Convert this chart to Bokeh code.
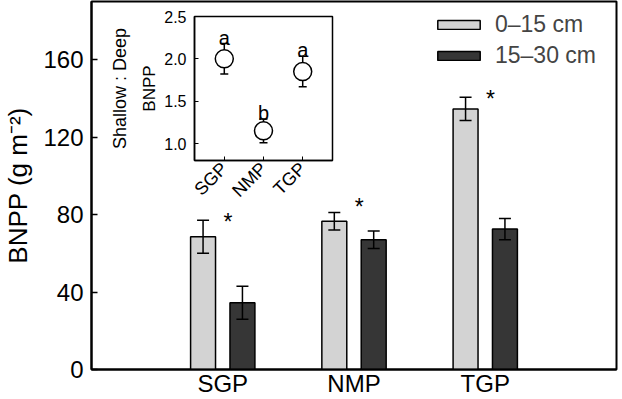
import math
from bokeh.plotting import figure
from bokeh.models import (Whisker, ColumnDataSource, FixedTicker, Legend, LegendItem,
                          LinearAxis, Range1d, TeeHead, NumeralTickFormatter)
from bokeh.layouts import column
from bokeh.embed import file_html
from bokeh.resources import INLINE
from bokeh.core.properties import value

# ---------------- data ----------------
sites = ["SGP", "NMP", "TGP"]
bnpp_shallow = [68.5, 76.5, 134.5]     # 0-15 cm
se_shallow = [8.5, 4.5, 6.0]
bnpp_deep = [34.5, 67.0, 72.5]         # 15-30 cm
se_deep = [8.5, 4.5, 5.5]
sig_y = [78.5, 86.5, 142.5]            # heights of the '*' marks
y_ticks = [0, 40, 80, 120, 160]

ratio = [2.0, 1.15, 1.85]              # shallow : deep BNPP
ratio_se = [0.18, 0.14, 0.18]
ratio_letters = ["a", "b", "a"]
inset_y_ticks = [1.0, 1.5, 2.0, 2.5]

FONT = "Liberation Sans"
xpos = [1, 2, 3]
x_sh = [c - 0.15 for c in xpos]
x_dp = [c + 0.15 for c in xpos]

# ---------------- main figure ----------------
p = figure(width=622, height=399, x_range=Range1d(0, 4), y_range=Range1d(0, 190),
           output_backend="svg", toolbar_location=None,
           min_border_left=91, min_border_top=1, min_border_right=2, min_border_bottom=27)
p.border_fill_color = "white"
p.xgrid.visible = False
p.ygrid.visible = False
p.outline_line_color = "black"
p.outline_line_width = 2
p.outline_line_alpha = 1

r1 = p.vbar(x=x_sh, top=bnpp_shallow, width=0.19, fill_color="#d3d3d3",
            line_color="black", line_width=1.5)
r2 = p.vbar(x=x_dp, top=bnpp_deep, width=0.19, fill_color="#363636",
            line_color="black", line_width=1.5)

for xs, m, s in ((x_sh, bnpp_shallow, se_shallow), (x_dp, bnpp_deep, se_deep)):
    src = ColumnDataSource(dict(x=xs, lo=[a - b for a, b in zip(m, s)],
                                hi=[a + b for a, b in zip(m, s)]))
    w = Whisker(base="x", lower="lo", upper="hi", source=src, line_width=1.5,
                line_color="black", level="annotation",
                upper_head=TeeHead(size=12, line_width=1.5, line_color="black"),
                lower_head=TeeHead(size=12, line_width=1.5, line_color="black"))
    p.add_layout(w)

p.text(x=[c + 0.04 for c in xpos], y=sig_y, text=["*"] * 3,
       text_font=value(FONT), text_font_size="23px", text_align="center",
       text_baseline="middle", y_offset=5, text_color="black")

p.yaxis.ticker = FixedTicker(ticks=y_ticks)
p.yaxis.major_tick_in = 6
p.yaxis.major_tick_out = 0
p.yaxis.minor_tick_line_color = None
p.yaxis.axis_line_width = 2
p.yaxis.major_tick_line_width = 1.5
p.yaxis.major_label_text_font = FONT
p.yaxis.major_label_text_font_size = "24px"
p.yaxis.major_label_text_color = "black"
p.yaxis.major_label_standoff = 8
p.yaxis.axis_label = "BNPP (g m\u207b\u00b2)"
p.yaxis.axis_label_text_font = FONT
p.yaxis.axis_label_text_font_size = "26px"
p.yaxis.axis_label_text_font_style = "normal"
p.yaxis.axis_label_text_color = "black"
p.yaxis.axis_label_standoff = 7

p.xaxis.ticker = FixedTicker(ticks=xpos)
p.xaxis.major_label_overrides = {i + 1: s for i, s in enumerate(sites)}
p.xaxis.major_tick_in = 0
p.xaxis.major_tick_out = 0
p.xaxis.minor_tick_line_color = None
p.xaxis.axis_line_width = 2
p.xaxis.major_label_text_font = FONT
p.xaxis.major_label_text_font_size = "24px"
p.xaxis.major_label_text_color = "black"
p.xaxis.major_label_standoff = 0

legend = Legend(items=[LegendItem(label="0\u201315 cm", renderers=[r1]),
                       LegendItem(label="15\u201330 cm", renderers=[r2])],
                location=(341, 300), glyph_width=53, glyph_height=11,
                label_text_font=FONT, label_text_font_size="23px",
                label_standoff=10, padding=0, spacing=4, margin=0,
                border_line_color=None, background_fill_alpha=0)
p.add_layout(legend)

# ---------------- inset ----------------
ins = figure(width=235, height=204, x_range=Range1d(0.24, 3.76), y_range=Range1d(0.8, 2.5),
             output_backend="svg", toolbar_location=None,
             min_border_left=86, min_border_right=6, min_border_top=10, min_border_bottom=50)
ins.xgrid.visible = False
ins.ygrid.visible = False
ins.outline_line_color = "black"
ins.outline_line_width = 1.5
ins.border_fill_alpha = 0
ins.background_fill_color = "white"

isrc = ColumnDataSource(dict(x=xpos, lo=[a - b for a, b in zip(ratio, ratio_se)],
                             hi=[a + b for a, b in zip(ratio, ratio_se)]))
ins.add_layout(Whisker(base="x", lower="lo", upper="hi", source=isrc, line_width=1.5,
                       line_color="black", level="underlay",
                       upper_head=TeeHead(size=8, line_width=1.5, line_color="black"),
                       lower_head=TeeHead(size=8, line_width=1.5, line_color="black")))
ins.scatter(x=xpos, y=ratio, size=18, fill_color="white", line_color="black", line_width=1.5)
ins.text(x=xpos, y=[a + b for a, b in zip(ratio, ratio_se)], text=ratio_letters,
         text_font=value(FONT), text_font_size="20px", text_align="center",
         text_baseline="alphabetic", y_offset=-6, text_color="black")

ins.yaxis.ticker = FixedTicker(ticks=inset_y_ticks)
ins.yaxis.formatter = NumeralTickFormatter(format="0.0")
ins.yaxis.major_tick_in = 4
ins.yaxis.major_tick_out = 0
ins.yaxis.minor_tick_line_color = None
ins.yaxis.axis_line_width = 1.5
ins.yaxis.major_label_text_font = FONT
ins.yaxis.major_label_text_font_size = "16px"
ins.yaxis.major_label_text_color = "black"
ins.yaxis.major_label_standoff = 8
ins.yaxis.axis_label = "BNPP"
ins.yaxis.axis_label_text_font = FONT
ins.yaxis.axis_label_text_font_size = "17px"
ins.yaxis.axis_label_text_font_style = "normal"
ins.yaxis.axis_label_text_color = "black"
ins.yaxis.axis_label_standoff = 2

extra = LinearAxis(axis_label="Shallow : Deep", ticker=FixedTicker(ticks=[]),
                   axis_line_color=None, major_tick_line_color=None,
                   minor_tick_line_color=None, axis_label_text_font=FONT,
                   axis_label_text_font_size="18px", axis_label_text_font_style="normal",
                   axis_label_text_color="black", axis_label_standoff=8)
ins.add_layout(extra, "left")

ins.xaxis.ticker = FixedTicker(ticks=xpos)
ins.xaxis.major_label_overrides = {i + 1: s for i, s in enumerate(sites)}
ins.xaxis.major_label_orientation = math.pi / 4
ins.xaxis.major_tick_in = 4
ins.xaxis.major_tick_out = 0
ins.xaxis.minor_tick_line_color = None
ins.xaxis.axis_line_width = 1.5
ins.xaxis.major_label_text_font = FONT
ins.xaxis.major_label_text_font_size = "18px"
ins.xaxis.major_label_text_color = "black"
ins.xaxis.major_label_standoff = 5

ins.margin = (-393, 0, 0, 103)

layout = column(p, ins)
open("out.html", "w").write(file_html(layout, INLINE))
